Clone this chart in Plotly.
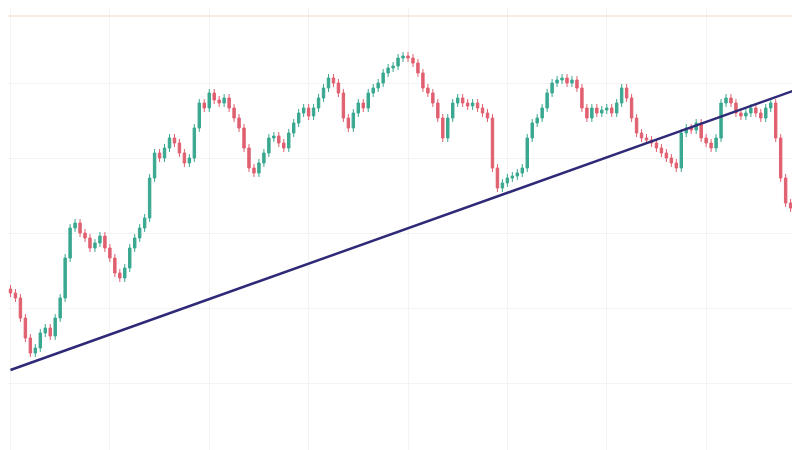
import plotly.graph_objects as go

# close levels (price units = 450 - pixel row)
close_px = [285,290,310,330,345,340,325,320,328,310,290,250,220,215,225,230,240,235,228,240,
            250,265,270,260,240,230,220,210,170,145,150,140,130,135,145,155,150,120,95,100,
            85,92,95,90,100,110,120,140,160,165,155,145,130,128,135,140,125,115,105,100,
            108,100,90,80,70,75,85,110,120,105,95,100,85,80,75,65,60,58,50,48,
            50,55,65,80,85,95,110,130,110,95,90,95,98,95,100,105,110,160,180,175,
            170,168,165,160,130,115,110,100,85,75,72,70,75,72,80,100,110,100,105,102,
            100,105,95,80,90,110,125,130,132,135,140,145,150,155,160,125,120,122,115,130,
            135,140,130,95,90,95,105,108,105,100,105,110,100,95,130,170,195,200,195,188,185]
closes = [450 - v for v in close_px]
opens = [closes[0] + 4] + closes[:-1]
x = list(range(len(closes)))
trend_x = [0, 158]
trend_y = [88, 368]

highs = [max(o, c) + 4 for o, c in zip(opens, closes)]
lows = [min(o, c) - 4 for o, c in zip(opens, closes)]

fig = go.Figure()
fig.add_trace(go.Candlestick(x=x, open=opens, high=highs, low=lows, close=closes,
    increasing=dict(line=dict(color="#3aa890", width=1), fillcolor="#3aa890"),
    decreasing=dict(line=dict(color="#e06070", width=1), fillcolor="#e06070"),
    whiskerwidth=0, showlegend=False))
fig.add_trace(go.Scatter(x=trend_x, y=trend_y, mode="lines",
    line=dict(color="#2e2a78", width=2.5), showlegend=False))
fig.add_hline(y=442, line=dict(color="#f5d8c8", width=1))
fig.update_layout(width=800, height=450, margin=dict(l=0, r=0, t=0, b=0),
    paper_bgcolor="white", plot_bgcolor="white",
    xaxis=dict(range=[-0.5, 160.5], showticklabels=False, rangeslider=dict(visible=False),
               showgrid=True, gridcolor="#f3f3f3", dtick=20, zeroline=False),
    yaxis=dict(range=[0, 450], showticklabels=False, showgrid=True, gridcolor="#f3f3f3",
               dtick=75, zeroline=False))
fig.write_html("out.html")
